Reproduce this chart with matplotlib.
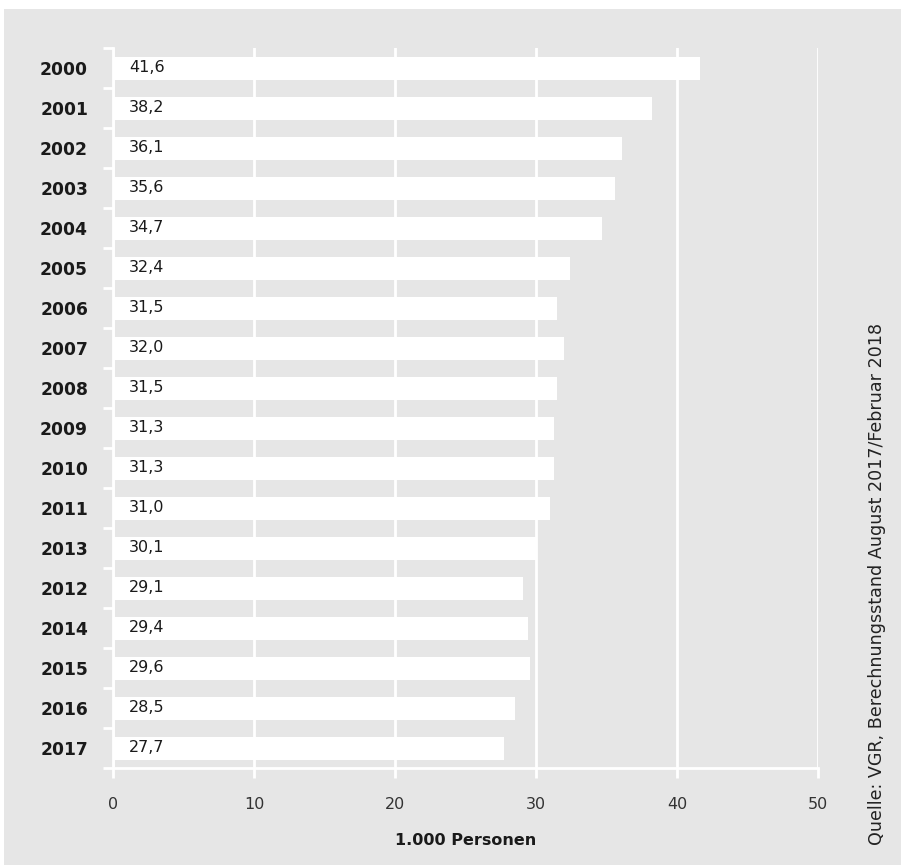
import matplotlib.pyplot as plt
from matplotlib.patches import Rectangle
from matplotlib.ticker import FixedLocator, NullFormatter

plt.rcParams['font.family'] = ['DejaVu Sans']

years = ['2000', '2001', '2002', '2003', '2004', '2005', '2006', '2007', '2008',
         '2009', '2010', '2011', '2013', '2012', '2014', '2015', '2016', '2017']
values = [41.6, 38.2, 36.1, 35.6, 34.7, 32.4, 31.5, 32.0, 31.5,
          31.3, 31.3, 31.0, 30.1, 29.1, 29.4, 29.6, 28.5, 27.7]
xticks = [0, 10, 20, 30, 40, 50]

bg = '#e6e6e6'
txt = '#1a1a1a'

fig = plt.figure(figsize=(9.01, 8.65), dpi=100)
fig.patch.set_facecolor('white')
fig.patches.append(Rectangle((4 / 901, 0), 1, 856 / 865, transform=fig.transFigure,
                             facecolor=bg, edgecolor='none', zorder=-1))

ax = fig.add_axes([113 / 901, 97 / 865, 705 / 901, 720 / 865])
ax.set_facecolor(bg)

pos = list(range(len(years)))
ax.barh(pos, values, height=0.575, color='white', zorder=3)
for p, v in zip(pos, values):
    ax.text(1.15, p, f'{v:.1f}'.replace('.', ','), va='center', ha='left',
            fontsize=11.5, color=txt, zorder=4)

ax.set_xlim(0, 50)
ax.set_ylim(len(years) - 0.5, -0.5)

ax.set_xticks(xticks)
ax.set_xticklabels([str(t) for t in xticks], fontsize=11.5, color='#333333')
ax.tick_params(axis='x', direction='out', length=7, width=2, color='white', pad=14)
ax.grid(axis='x', color='white', linewidth=2, zorder=1)

ax.set_yticks(pos)
ax.set_yticklabels(years, fontsize=12.3, fontweight='bold', color=txt)
ax.yaxis.set_minor_locator(FixedLocator([p - 0.5 for p in pos] + [len(years) - 0.5]))
ax.yaxis.set_minor_formatter(NullFormatter())
ax.tick_params(axis='y', which='major', length=0, pad=18)
ax.tick_params(axis='y', which='minor', direction='out', length=7, width=2, color='white')

for side in ['top', 'right']:
    ax.spines[side].set_visible(False)
for side in ['left', 'bottom']:
    ax.spines[side].set_color('white')
    ax.spines[side].set_linewidth(2)

ax.set_xlabel('1.000 Personen', fontsize=11.5, fontweight='bold', color=txt, labelpad=15)

fig.text(877 / 901, 20 / 865, 'Quelle: VGR, Berechnungsstand August 2017/Februar 2018',
         rotation=90, ha='center', va='bottom', fontsize=12.6, color='#222222')

fig.savefig('out.png', dpi=100, facecolor=fig.get_facecolor())
